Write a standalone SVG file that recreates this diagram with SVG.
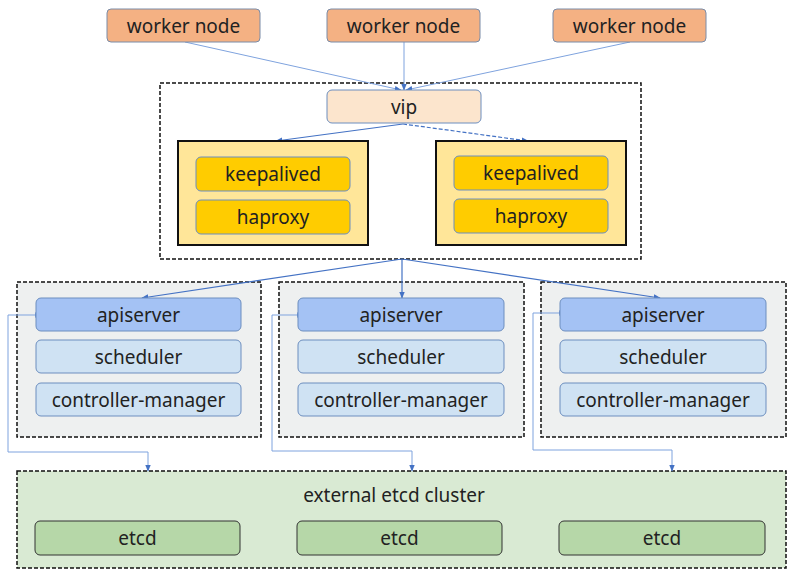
<svg xmlns="http://www.w3.org/2000/svg" width="795" height="578" viewBox="0 0 795 578">
<defs>
<marker id="arr" viewBox="0 0 10 10" refX="9" refY="5" markerWidth="7" markerHeight="7" orient="auto" markerUnits="userSpaceOnUse">
<path d="M0,1 L10,5 L0,9 z" fill="#4472C4"/>
</marker>
<marker id="arrs" viewBox="0 0 10 10" refX="1" refY="5" markerWidth="7" markerHeight="7" orient="auto-start-reverse" markerUnits="userSpaceOnUse">
<path d="M0,1 L10,5 L0,9 z" fill="#4472C4"/>
</marker>
</defs>
<style>
text{font-family:"Noto Sans","Liberation Sans",Arial,sans-serif;font-size:19px;fill:#222;text-anchor:middle;dominant-baseline:central}
.worker{fill:#F4B183;stroke:#7A8CA8;stroke-width:1}
.vip{fill:#FCE5CD;stroke:#6C8EBF;stroke-width:1}
.ha{fill:#FFE699;stroke:#111;stroke-width:2}
.ka{fill:#FFCC00;stroke:#6C8EBF;stroke-width:1}
.dash{fill:none;stroke:#111;stroke-width:1.5;stroke-dasharray:4 2}
.master{fill:#EEF0F0;stroke:#111;stroke-width:1.5;stroke-dasharray:4 2}
.api{fill:#A4C2F4;stroke:#6C8EBF;stroke-width:1}
.sch{fill:#CFE2F3;stroke:#6C8EBF;stroke-width:1}
.etcdc{fill:#D9EAD3;stroke:#111;stroke-width:1.5;stroke-dasharray:4 2}
.etcd{fill:#B6D7A8;stroke:#333;stroke-width:1}
.ln{fill:none;stroke:#4472C4;stroke-width:1.2}
.lt{fill:none;stroke:#7FA3DE;stroke-width:1}
</style>

<g id="lb-group"><rect class="dash" x="160" y="83" width="481" height="176"/></g>
<g id="master-1"><rect class="master" x="17" y="282" width="244" height="155"/></g>
<g id="master-2"><rect class="master" x="279" y="282" width="245" height="155"/></g>
<g id="master-3"><rect class="master" x="541" y="282" width="245" height="155"/></g>
<g id="etcd-cluster"><rect class="etcdc" x="17" y="471" width="769" height="97"/><text x="394" y="495" font-size="17.5">external etcd cluster</text></g>

<g id="connectors">
<path class="lt" d="M185,42 L401,90" marker-end="url(#arr)"/>
<path class="lt" d="M404,42 L404,90" marker-end="url(#arr)"/>
<path class="lt" d="M630,42 L406,90" marker-end="url(#arr)"/>
<path class="ln" d="M403,124 L276,141" marker-end="url(#arr)"/>
<path class="ln" d="M403,124 L528,141" stroke-dasharray="4 2" marker-end="url(#arr)"/>
<path class="ln" d="M402,259 L142,298" marker-end="url(#arr)"/>
<path class="ln" d="M402,259 L402,298" marker-end="url(#arr)"/>
<path class="ln" d="M402,259 L660,298" marker-end="url(#arr)"/>
<path class="lt" d="M36,315 L8,315 L8,452 L148,452 L148,471" marker-start="url(#arrs)" marker-end="url(#arr)"/>
<path class="lt" d="M298,315 L272,315 L272,451 L412,451 L412,471" marker-start="url(#arrs)" marker-end="url(#arr)"/>
<path class="lt" d="M560,313 L533,313 L533,450 L672,450 L672,471" marker-start="url(#arrs)" marker-end="url(#arr)"/>
</g>

<g id="worker-1"><rect class="worker" x="107" y="9" width="153" height="33" rx="4"/><text x="183.5" y="26">worker node</text></g>
<g id="worker-2"><rect class="worker" x="327" y="9" width="153" height="33" rx="4"/><text x="403.5" y="26">worker node</text></g>
<g id="worker-3"><rect class="worker" x="553" y="9" width="153" height="33" rx="4"/><text x="629.5" y="26">worker node</text></g>

<g id="vip"><rect class="vip" x="327" y="90" width="154" height="33" rx="5"/><text x="404" y="107">vip</text></g>

<g id="lb-1"><rect class="ha" x="178" y="141" width="190" height="104"/>
<rect class="ka" x="196" y="157" width="154" height="34" rx="5"/><text x="273" y="174">keepalived</text>
<rect class="ka" x="196" y="200" width="154" height="34" rx="5"/><text x="273" y="217">haproxy</text></g>
<g id="lb-2"><rect class="ha" x="436" y="141" width="190" height="104"/>
<rect class="ka" x="454" y="156" width="154" height="34" rx="5"/><text x="531" y="173">keepalived</text>
<rect class="ka" x="454" y="199" width="154" height="34" rx="5"/><text x="531" y="216">haproxy</text></g>

<g id="m1-nodes">
<rect class="api" x="36" y="298" width="205" height="33" rx="5"/><text x="138.5" y="315">apiserver</text>
<rect class="sch" x="36" y="340" width="205" height="33" rx="5"/><text x="138.5" y="357">scheduler</text>
<rect class="sch" x="36" y="383" width="205" height="33" rx="5"/><text x="138.5" y="400">controller-manager</text>
</g>
<g id="m2-nodes">
<rect class="api" x="298" y="298" width="206" height="33" rx="5"/><text x="401" y="315">apiserver</text>
<rect class="sch" x="298" y="340" width="206" height="33" rx="5"/><text x="401" y="357">scheduler</text>
<rect class="sch" x="298" y="383" width="206" height="33" rx="5"/><text x="401" y="400">controller-manager</text>
</g>
<g id="m3-nodes">
<rect class="api" x="560" y="298" width="206" height="33" rx="5"/><text x="663" y="315">apiserver</text>
<rect class="sch" x="560" y="340" width="206" height="33" rx="5"/><text x="663" y="357">scheduler</text>
<rect class="sch" x="560" y="383" width="206" height="33" rx="5"/><text x="663" y="400">controller-manager</text>
</g>

<g id="etcd-1"><rect class="etcd" x="35" y="521" width="205" height="34" rx="5"/><text x="137.5" y="538">etcd</text></g>
<g id="etcd-2"><rect class="etcd" x="297" y="521" width="205" height="34" rx="5"/><text x="399.5" y="538">etcd</text></g>
<g id="etcd-3"><rect class="etcd" x="559" y="521" width="206" height="34" rx="5"/><text x="662" y="538">etcd</text></g>
</svg>
